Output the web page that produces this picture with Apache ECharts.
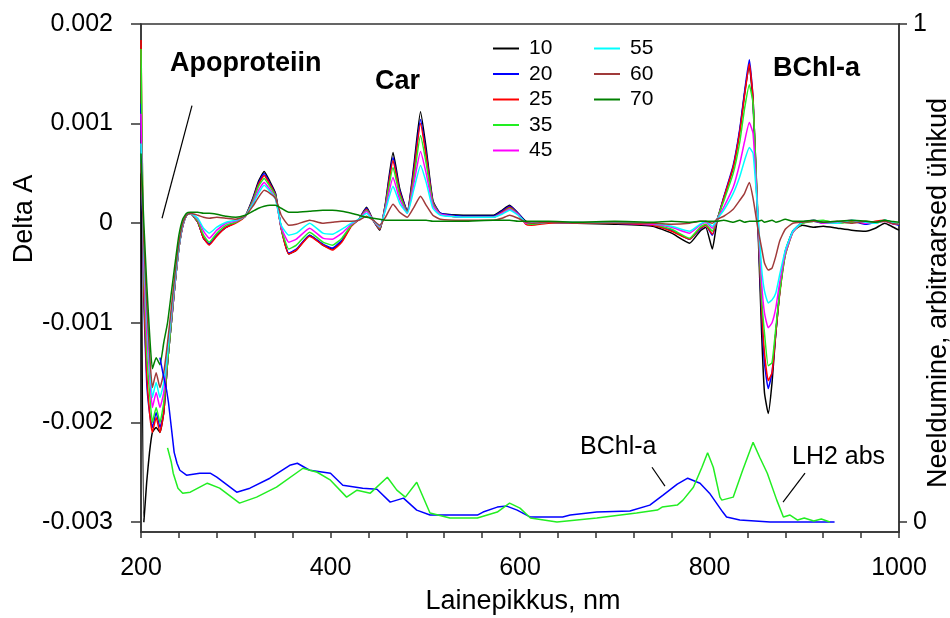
<!DOCTYPE html>
<html>
<head>
<meta charset="utf-8">
<title>Delta A spektrid</title>
<script src="https://cdn.jsdelivr.net/npm/echarts@6.0.0/dist/echarts.min.js"></script>
<style>
  html, body { margin: 0; padding: 0; background: #fff; }
  #mainChart { width: 950px; height: 618px; }
</style>
</head>
<body>
<div id="mainChart"></div>
<script>
// lainepikkused (nm) diferentsspektrite jaoks
var wavelength = [
  200, 203, 206, 209, 212, 216, 220, 224, 228, 232,
  236, 240, 244, 248, 252, 260, 266, 272, 280, 290,
  300, 310, 318, 324, 330, 336, 342, 348, 356, 364,
  378, 392, 402, 412, 422, 430, 438, 445, 452, 458,
  466, 473, 481, 488, 495, 501, 508, 516, 540, 572,
  581, 589, 598, 606, 612, 630, 660, 700, 740, 760,
  779, 790, 796, 803, 808, 815, 825, 832, 837, 842,
  846, 851, 855, 858, 862, 866, 870, 874, 880, 888,
  898, 910, 920, 935, 950, 965, 975, 985, 992, 1000
];

var dA10 = [
  0.0005, -0.003, -0.0026, -0.0023, -0.0021, -0.00205, -0.0021, -0.0019, -0.0014, -0.001,
  -0.0006, -0.00025, -0.00003, 0.00008, 0.0001, 0.00001, -0.00015, -0.00021, -0.00012, -0.00004,
  0.00001, 0.00007, 0.00025, 0.00042, 0.00052, 0.00042, 0.0003, -0.00005, -0.00031, -0.00027,
  -0.00012, -0.00022, -0.00026, -0.00018, -0.00002, 0.00004, 0.00016, 0.00003, -0.00007, 0.0002,
  0.00071, 0.00035, 0.00012, 0.00058, 0.00112, 0.00075, 0.00023, 0.0001, 0.00008, 0.00008,
  0.00013, 0.00018, 0.0001, 0.00002, 0, 0.00001, 0, -0.00001, -0.00003, -0.0001,
  -0.0002, -0.00008, -0.00004, -0.00026, 0.00002, 0.00025, 0.00056, 0.00093, 0.0013, 0.00158,
  0.0012, 0, -0.0011, -0.0017, -0.00191, -0.0016, -0.0011, -0.0007, -0.00028, -0.00008,
  -0.00002, -0.00004, -0.00003, -0.00005, -0.00007, -0.00008, -0.00005, 0, -0.00003, -0.00007
];
var dA20 = [
  0.0012, -0.0008, -0.0016, -0.0019, -0.00205, -0.0019, -0.00205, -0.0019, -0.0014, -0.001,
  -0.0006, -0.00025, -0.00003, 0.00008, 0.0001, 0.00001, -0.00015, -0.00021, -0.00012, -0.00004,
  0.00001, 0.00007, 0.00024, 0.0004, 0.0005, 0.0004, 0.00029, -0.00005, -0.0003, -0.00026,
  -0.00012, -0.00021, -0.00025, -0.00017, -0.00002, 0.00004, 0.00015, 0.00003, -0.00006, 0.00019,
  0.00066, 0.00033, 0.00012, 0.00054, 0.00104, 0.0007, 0.00022, 0.0001, 0.00007, 0.00007,
  0.00012, 0.00017, 0.0001, 0.00001, -0.00001, 0.00001, 0, 0, -0.00002, -0.00007,
  -0.00016, -0.00006, -0.00002, -0.00012, 0.00003, 0.00026, 0.00058, 0.00095, 0.00132, 0.00164,
  0.00125, 0.00003, -0.0009, -0.0014, -0.00166, -0.0015, -0.0011, -0.0007, -0.0003, -0.00008,
  0.00001, 0.00002, 0, 0.00001, 0.00002, -0.00001, 0.00001, 0.00003, 0, -0.00002
];
var dA25 = [
  0.00184, -0.0007, -0.0015, -0.0019, -0.0021, -0.00195, -0.0021, -0.0019, -0.0014, -0.001,
  -0.0006, -0.00025, -0.00003, 0.00008, 0.0001, 0.00001, -0.00015, -0.00022, -0.00013, -0.00004,
  0, 0.00007, 0.00023, 0.00039, 0.00048, 0.00039, 0.00028, -0.00006, -0.00031, -0.00027,
  -0.00013, -0.00022, -0.00027, -0.00019, -0.00003, 0.00004, 0.00014, 0.00003, -0.00006, 0.00018,
  0.00063, 0.00031, 0.00011, 0.00051, 0.001, 0.00067, 0.00021, 0.00009, 0.00006, 0.00006,
  0.00011, 0.00016, 0.00009, -0.00001, -0.00002, 0, 0.00001, 0, -0.00002, -0.00008,
  -0.00016, -0.00005, -0.00002, -0.00011, 0.00003, 0.00025, 0.00056, 0.00092, 0.00128, 0.0016,
  0.00125, 0.00005, -0.00085, -0.0013, -0.00158, -0.0015, -0.0011, -0.00072, -0.00032, -0.00009,
  0, 0.00003, 0.00001, 0, 0.00002, 0, 0.00002, 0.00003, 0, -0.00001
];
var dA35 = [
  0.00175, -0.0005, -0.0013, -0.0017, -0.002, -0.00185, -0.002, -0.0018, -0.0014, -0.001,
  -0.0006, -0.00025, -0.00002, 0.00008, 0.0001, 0.00002, -0.00012, -0.00019, -0.0001, -0.00002,
  0.00001, 0.00007, 0.00022, 0.00037, 0.00045, 0.00037, 0.00027, -0.00005, -0.00026, -0.00022,
  -0.00009, -0.00019, -0.00022, -0.00015, -0.00002, 0.00004, 0.00013, 0.00003, -0.00005, 0.00017,
  0.00056, 0.00028, 0.00011, 0.00045, 0.00088, 0.0006, 0.0002, 0.00009, 0.00006, 0.00006,
  0.0001, 0.00015, 0.00009, 0, -0.00001, 0.00001, 0, 0.00001, -0.00001, -0.00006,
  -0.00015, -0.00004, -0.00001, -0.00008, 0.00004, 0.00022, 0.0005, 0.00082, 0.00115, 0.00139,
  0.0012, 0.0001, -0.00075, -0.0011, -0.00143, -0.0014, -0.00105, -0.0007, -0.00032, -0.00009,
  0, 0.00002, 0.00003, 0, 0.00001, 0.00002, 0, 0.00003, 0.00001, -0.00001
];
var dA45 = [
  0.0011, -0.0004, -0.0011, -0.0015, -0.00185, -0.0017, -0.00185, -0.0017, -0.0013, -0.00095,
  -0.00058, -0.00024, -0.00002, 0.00008, 0.0001, 0.00004, -0.00008, -0.00015, -0.00007, 0,
  0.00002, 0.00007, 0.0002, 0.00033, 0.00041, 0.00034, 0.00025, -0.00004, -0.00019, -0.00016,
  -0.00005, -0.00015, -0.00016, -0.0001, -0.00001, 0.00004, 0.00012, 0.00003, -0.00004, 0.00015,
  0.00046, 0.00024, 0.0001, 0.0004, 0.00072, 0.0005, 0.00018, 0.00009, 0.00006, 0.00006,
  0.0001, 0.00014, 0.00009, 0, 0, 0.00001, 0, 0, -0.00001, -0.00004,
  -0.0001, -0.00002, 0.00001, -0.00005, 0.00004, 0.00016, 0.00036, 0.0006, 0.00082, 0.00101,
  0.0009, 0.0001, -0.0006, -0.0009, -0.00105, -0.001, -0.00085, -0.0006, -0.0003, -0.00009,
  0.00001, 0.00003, 0, 0.00001, 0.00003, 0, 0.00001, 0.00002, 0, -0.00001
];
var dA55 = [
  0.0008, -0.0003, -0.0009, -0.0014, -0.00175, -0.0016, -0.00175, -0.0016, -0.0013, -0.0009,
  -0.00055, -0.00023, -0.00001, 0.00008, 0.0001, 0.00005, -0.00005, -0.0001, -0.00004, 0.00001,
  0.00003, 0.00007, 0.00019, 0.0003, 0.00038, 0.00032, 0.00024, -0.00002, -0.00012, -0.0001,
  0, -0.0001, -0.00011, -0.00006, 0, 0.00004, 0.0001, 0.00003, -0.00003, 0.00013,
  0.00037, 0.0002, 0.0001, 0.00034, 0.00058, 0.00041, 0.00015, 0.00008, 0.00006, 0.00006,
  0.00009, 0.00013, 0.00008, 0.00001, 0, 0.00001, 0.00001, 0, 0, -0.00003,
  -0.00008, -0.00001, 0.00002, -0.00003, 0.00004, 0.00013, 0.0003, 0.00047, 0.00063, 0.00076,
  0.0007, 0.0001, -0.00045, -0.00068, -0.0008, -0.00077, -0.0007, -0.00052, -0.00027, -0.00008,
  0.00001, 0.00003, 0.00001, 0, 0.00003, 0.00001, 0, 0.00003, 0.00001, -0.00001
];
var dA60 = [
  0.0006, -0.0002, -0.0008, -0.0013, -0.00165, -0.0015, -0.00165, -0.0015, -0.0012, -0.00085,
  -0.0005, -0.0002, 0, 0.00008, 0.0001, 0.00008, 0.00006, 0.00005, 0.00006, 0.00005,
  0.00004, 0.00007, 0.00017, 0.00026, 0.00033, 0.0003, 0.00025, 0.00008, -0.00002, -0.00001,
  0.00003, 0, 0.00001, 0.00002, 0.00002, 0.00003, 0.00007, 0.00003, -0.00002, 0.00006,
  0.00019, 0.00011, 0.00006, 0.00016, 0.00027, 0.00018, 0.00008, 0.00004, 0.00003, 0.00003,
  0.00005, 0.00008, 0.00005, 0.00001, 0, 0.00001, 0, 0, 0, -0.00001,
  0, 0.00002, 0.00002, 0, 0.00004, 0.00007, 0.00014, 0.00023, 0.0003, 0.00041,
  0.00025, -0.00005, -0.00025, -0.0004, -0.00047, -0.00045, -0.00033, -0.00018, -0.00006, 0,
  0.00001, 0.00002, 0.00001, 0.00002, 0, 0.00002, 0.00001, 0.00002, 0, -0.00001
];
var dA70 = [
  0.0007, 0, -0.0006, -0.0011, -0.00146, -0.00135, -0.00142, -0.0012, -0.001, -0.0007,
  -0.0004, -0.00012, 0.00004, 0.0001, 0.00011, 0.00011, 0.0001, 0.0001, 0.00009, 0.00007,
  0.00006, 0.00008, 0.00012, 0.00015, 0.00017, 0.00018, 0.00018, 0.00015, 0.00011, 0.00011,
  0.00012, 0.00013, 0.00013, 0.00012, 0.0001, 0.00008, 0.00006, 0.00005, 0.00004, 0.00003,
  0.00003, 0.00003, 0.00003, 0.00003, 0.00003, 0.00003, 0.00002, 0.00002, 0.00002, 0.00003,
  0.00003, 0.00003, 0.00002, 0.00002, 0.00002, 0.00002, 0.00001, 0.00002, 0.00001, 0.00002,
  0.00001, 0.00002, 0.00002, 0.00002, 0.00002, 0.00003, 0.00001, 0.00003, 0.00001, 0.00002,
  0.00002, 0.00002, 0.00003, 0.00001, 0.00002, 0.00003, 0.00001, 0.00002, 0.00004, 0.00002,
  0.00002, 0.00003, 0.00001, 0.00002, 0.00003, 0.00002, 0.00001, 0.00003, 0.00002, 0.00001
];

// neeldumisspektrid (parem telg, suhtelised ühikud)
var wlBChl = [
  220, 223, 227, 229, 232, 235, 238, 241, 248, 262,
  273, 280, 287, 301, 315, 336, 357, 365, 378, 400,
  413, 434, 449, 463, 477, 491, 505, 526, 555, 561,
  576, 586, 597, 611, 645, 653, 681, 716, 737, 751,
  766, 777, 790, 800, 814, 818, 832, 864, 932
];
var absBChl = [
  0.33, 0.3, 0.265, 0.24, 0.19, 0.14, 0.118, 0.104, 0.094, 0.098,
  0.098, 0.09, 0.08, 0.06, 0.068, 0.088, 0.114, 0.118, 0.104, 0.098,
  0.074, 0.068, 0.066, 0.04, 0.048, 0.024, 0.014, 0.014, 0.014, 0.02,
  0.03, 0.032, 0.024, 0.01, 0.01, 0.014, 0.02, 0.022, 0.034, 0.054,
  0.076, 0.088, 0.078, 0.058, 0.02, 0.01, 0.004, 0, 0
];
var wlLH2 = [
  228, 232, 234, 239, 244, 252, 270, 283, 304, 322,
  343, 371, 386, 400, 417, 428, 442, 460, 470, 479,
  491, 505, 526, 555, 576, 589, 600, 611, 639, 681,
  723, 745, 750, 766, 772, 783, 792, 798, 804, 811,
  813, 825, 835, 846, 853, 861, 871, 878, 885, 893,
  900, 910, 918, 927
];
var absLH2 = [
  0.149, 0.12, 0.098, 0.068, 0.058, 0.06, 0.078, 0.068, 0.038, 0.05,
  0.07, 0.108, 0.1, 0.084, 0.05, 0.064, 0.058, 0.09, 0.064, 0.05,
  0.08, 0.018, 0.008, 0.008, 0.02, 0.038, 0.028, 0.008, 0, 0.008,
  0.018, 0.024, 0.03, 0.034, 0.044, 0.07, 0.11, 0.139, 0.11, 0.05,
  0.044, 0.05, 0.104, 0.16, 0.13, 0.098, 0.044, 0.01, 0.014, 0.004,
  0.008, 0.002, 0.006, 0
];

var xTicks = [200, 240, 280, 320, 360, 400, 440, 480, 520, 560, 600, 640, 680, 720, 760, 800, 840, 880, 920, 960, 1000];
var xLabels = [200, 400, 600, 800, 1000];
var yTicks = [-0.003, -0.002, -0.001, 0, 0.001, 0.002];
var y2Ticks = [0, 1];

var seriesNames = ['10', '20', '25', '35', '45', '55', '60', '70'];
var seriesValues = [dA10, dA20, dA25, dA35, dA45, dA55, dA60, dA70];
var seriesColors = ['#000000', '#0000ff', '#ff0000', '#22ee22', '#ff00ff', '#00ffff', '#a03a3a', '#008000'];

// osutusjooned [x, y] andmeteljestikus
var apoPointer = [[253.8, 0.00118], [222.2, 0.00005]];
var bchlPointer = [[739.3, 0.110], [753, 0.072]];
var lh2Pointer = [[900.8, 0.098], [877.6, 0.04]];

var FONT = '"Liberation Sans", Arial, Helvetica, sans-serif';
var AXIS_COLOR = '#333';

function pairs(xs, ys) {
    return xs.map(function (x, i) { return [x, ys[i]]; });
}

function pointerLine(p) {
    return {
        symbol: ['none', 'none'],
        silent: true,
        animation: false,
        label: { show: false },
        lineStyle: { color: '#000', width: 1.2, type: 'solid' },
        emphasis: { disabled: true },
        data: [[{ coord: p[0] }, { coord: p[1] }]]
    };
}

var myChart = echarts.init(document.getElementById('mainChart'));

var series = seriesNames.map(function (name, i) {
    var s = {
        name: name,
        type: 'line',
        yAxisIndex: 0,
        data: pairs(wavelength, seriesValues[i]),
        symbol: 'none',
        showSymbol: false,
        smooth: 0.15,
        color: seriesColors[i],
        lineStyle: { color: seriesColors[i], width: 1.5 },
        emphasis: { disabled: true }
    };
    if (i === 0) {
        s.markLine = pointerLine(apoPointer);
    }
    return s;
});

series.push({
    name: 'BChl-a abs',
    type: 'line',
    yAxisIndex: 1,
    data: pairs(wlBChl, absBChl),
    symbol: 'none',
    color: '#0000ff',
    lineStyle: { color: '#0000ff', width: 1.5 },
    emphasis: { disabled: true },
    markLine: pointerLine(bchlPointer)
});
series.push({
    name: 'LH2 abs',
    type: 'line',
    yAxisIndex: 1,
    data: pairs(wlLH2, absLH2),
    symbol: 'none',
    color: '#22ee22',
    lineStyle: { color: '#22ee22', width: 1.5 },
    emphasis: { disabled: true },
    markLine: pointerLine(lh2Pointer)
});

function legendColumn(names, left) {
    return {
        data: names,
        orient: 'vertical',
        left: left,
        top: 38,
        padding: 0,
        icon: 'rect',
        itemWidth: 26,
        itemHeight: 2,
        itemGap: 4.5,
        selectedMode: false,
        textStyle: { fontSize: 21, color: '#000', fontFamily: FONT, padding: [0, 0, 0, 5], lineHeight: 21 }
    };
}

function label(text, x, y, size, weight, rotation, align) {
    var a = align || (rotation ? 'center' : 'left');
    return {
        type: 'text',
        x: x,
        y: y,
        rotation: rotation || 0,
        silent: true,
        style: {
            text: text,
            fontSize: size,
            fontWeight: weight,
            fontFamily: FONT,
            fill: '#000',
            align: a,
            textAlign: a,
            verticalAlign: 'middle',
            textVerticalAlign: 'middle'
        }
    };
}

var option = {
    animation: false,
    backgroundColor: '#fff',
    textStyle: { fontFamily: FONT },
    grid: {
        left: 141,
        right: 51,
        top: 24,
        bottom: 86,
        show: true,
        borderColor: AXIS_COLOR,
        borderWidth: 1.5,
        backgroundColor: 'transparent'
    },
    legend: [
        legendColumn(['10', '20', '25', '35', '45'], 493),
        legendColumn(['55', '60', '70'], 594)
    ],
    xAxis: {
        type: 'value',
        min: 200,
        max: 1000,
        axisLine: { show: true, onZero: false, lineStyle: { color: AXIS_COLOR, width: 1.5 } },
        axisTick: { show: true, customValues: xTicks, length: 6, lineStyle: { color: AXIS_COLOR, width: 1.5 } },
        axisLabel: {
            customValues: xLabels,
            margin: 24,
            fontSize: 25,
            color: '#000',
            fontFamily: FONT,
            formatter: function (v) { return String(v); }
        },
        splitLine: { show: false }
    },
    yAxis: [{
        type: 'value',
        position: 'left',
        min: -0.0031,
        max: 0.002,
        axisLine: { show: true, onZero: false, lineStyle: { color: AXIS_COLOR, width: 1.5 } },
        axisTick: { show: true, customValues: yTicks, length: 10, lineStyle: { color: AXIS_COLOR, width: 1.5 } },
        axisLabel: {
            customValues: yTicks,
            margin: 28,
            fontSize: 25,
            color: '#000',
            fontFamily: FONT,
            formatter: function (v) { return String(Math.round(v * 1000) / 1000); }
        },
        splitLine: { show: false }
    }, {
        type: 'value',
        position: 'right',
        min: -0.02,
        max: 1,
        axisLine: { show: true, onZero: false, lineStyle: { color: AXIS_COLOR, width: 1.5 } },
        axisTick: { show: true, customValues: y2Ticks, length: 8, lineStyle: { color: AXIS_COLOR, width: 1.5 } },
        axisLabel: {
            customValues: y2Ticks,
            margin: 14,
            fontSize: 25,
            color: '#000',
            fontFamily: FONT,
            formatter: function (v) { return String(v); }
        },
        splitLine: { show: false }
    }],
    graphic: [
        label('Apoproteiin', 170, 64, 27, 'bold'),
        label('Car', 375, 82, 27, 'bold'),
        label('BChl-a', 773, 69, 27, 'bold'),
        label('BChl-a', 580, 447, 25, 'normal'),
        label('LH2 abs', 792, 457, 25, 'normal'),
        label('Lainepikkus, nm', 523, 602, 27, 'normal', 0, 'center'),
        label('Delta A', 25, 219, 27, 'normal', Math.PI / 2),
        label('Neeldumine, arbitraarsed ühikud', 939, 293, 27, 'normal', Math.PI / 2)
    ],
    series: series
};

myChart.setOption(option);
</script>
</body>
</html>
